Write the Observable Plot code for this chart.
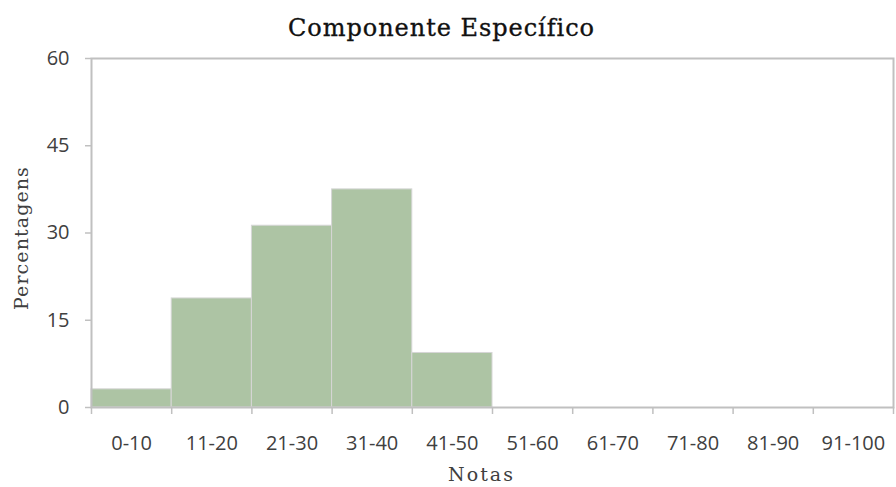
<!DOCTYPE html>
<html>
<head>
<meta charset="utf-8">
<script src="https://cdn.jsdelivr.net/npm/d3@7"></script>
<script src="https://cdn.jsdelivr.net/npm/@observablehq/plot@0.6"></script>
<style>
  html, body { margin: 0; padding: 0; background: #fff; }
  svg { display: block; }
  .ttl text { letter-spacing: 0.95px; }
  .ylab text { letter-spacing: 1.1px; }
  .xlab text { letter-spacing: 2px; }
</style>
</head>
<body>
<div id="chart"></div>
<script>
const title = "Componente Específico";
const categories = ["0-10", "11-20", "21-30", "31-40", "41-50", "51-60", "61-70", "71-80", "81-90", "91-100"];
const percentages = [3.125, 18.75, 31.25, 37.5, 9.375, 0, 0, 0, 0, 0];
const yTicks = [0, 15, 30, 45, 60];
const binWidth = 10;

const data = categories.map((c, i) => ({cat: c, lo: i * binWidth, hi: (i + 1) * binWidth, mid: i * binWidth + binWidth / 2, v: percentages[i]}));
const boundaries = d3.range(0, categories.length * binWidth + 1, binWidth);

const gray = "#c0c0c0";
const textColor = "#404040";
const sans = "'Open Sans', sans-serif";
const serif = "'DejaVu Serif', serif";

const chart = Plot.plot({
  width: 896,
  height: 487,
  marginTop: 58,
  marginBottom: 80,
  marginLeft: 91,
  marginRight: 3,
  style: {fontFamily: sans, fontSize: "20px", color: textColor, background: "#fff", overflow: "visible"},
  x: {domain: [0, categories.length * binWidth]},
  y: {domain: [0, 60]},
  marks: [
    Plot.rect(data, {x1: "lo", x2: "hi", y1: 0, y2: "v", fill: "#adc4a4", stroke: "#d6d6d6", strokeWidth: 1}),
    Plot.frame({stroke: gray, strokeWidth: 2}),
    Plot.axisY({ticks: yTicks, tickSize: 6, tickPadding: 16, stroke: gray, strokeWidth: 1.5, fill: textColor, fontSize: 20, fontFamily: sans, label: null}),
    Plot.axisX({ticks: boundaries, tickSize: 7, tickFormat: () => "", stroke: gray, strokeWidth: 1.5, label: null}),
    Plot.text(data, {x: "mid", text: "cat", frameAnchor: "bottom", dy: 36, lineAnchor: "middle", fill: textColor, fontSize: 20, fontFamily: sans}),
    Plot.text(["Notas"], {className: "xlab", frameAnchor: "bottom", dy: 67, dx: -11, lineAnchor: "middle", textAnchor: "middle", fill: textColor, fontSize: 19, fontFamily: serif}),
    Plot.text(["Percentagens"], {className: "ylab", frameAnchor: "left", dx: -70, dy: 5, rotate: -90, lineAnchor: "middle", textAnchor: "middle", fill: textColor, fontSize: 19, fontFamily: serif}),
    Plot.text([title], {className: "ttl", frameAnchor: "top", dy: -30, dx: -51, lineAnchor: "middle", textAnchor: "middle", fill: "#111", stroke: "#111", strokeWidth: 0.35, fontSize: 24, fontFamily: serif})
  ]
});
document.getElementById("chart").appendChild(chart);
</script>
</body>
</html>
